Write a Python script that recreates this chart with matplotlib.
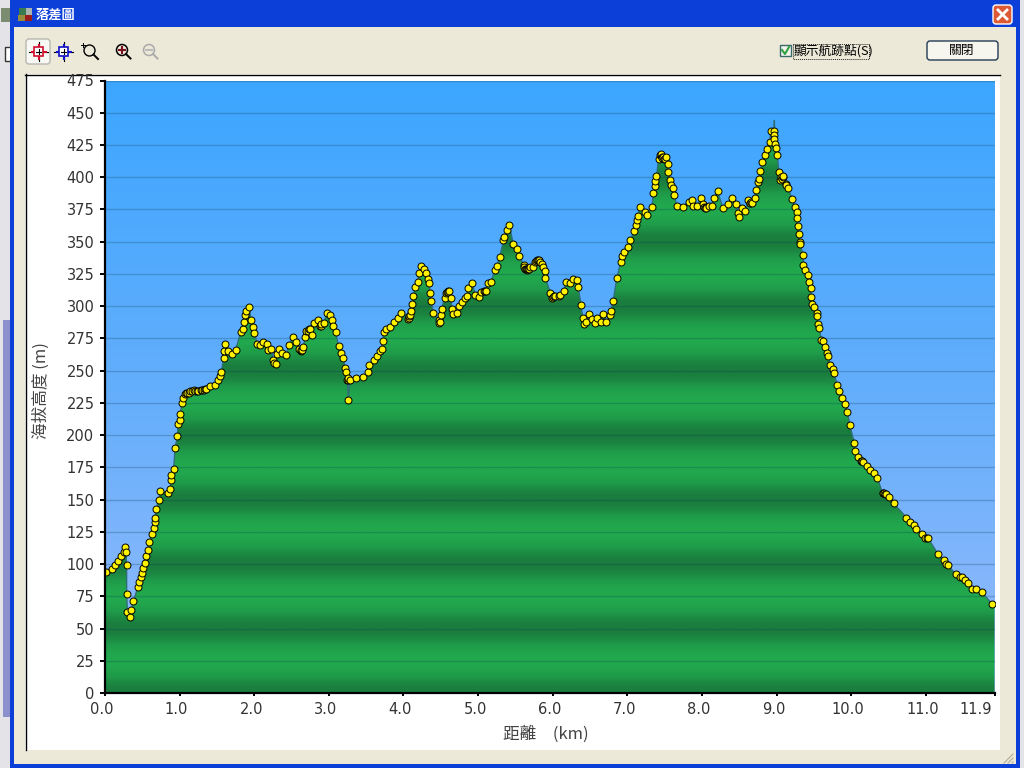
import numpy as np
import matplotlib
matplotlib.use('Agg')
import matplotlib.pyplot as plt
from matplotlib.colors import LinearSegmentedColormap
from matplotlib.patches import Circle, FancyBboxPatch, Polygon, Rectangle
from matplotlib.transforms import ScaledTranslation

plt.rcParams['font.family'] = ['Noto Sans CJK TC', 'DejaVu Sans']

# waypoints, distance in km and altitude in m
waypoint_km = [
	0.01, 0.09, 0.13, 0.18, 0.22, 0.25, 0.27, 0.28, 0.29, 0.29, 0.30, 0.33, 0.35, 0.38, 0.44, 0.46, 0.48, 0.50, 0.51, 0.53,
	0.55, 0.57, 0.59, 0.63, 0.65, 0.67, 0.67, 0.69, 0.72, 0.74, 0.84, 0.87, 0.89, 0.89, 0.92, 0.94, 0.97, 0.98, 1.00, 1.01,
	1.03, 1.05, 1.09, 1.14, 1.19, 1.25, 1.32, 1.36, 1.41, 1.47, 1.52, 1.54, 1.56, 1.59, 1.60, 1.61, 1.65, 1.70, 1.75, 1.82,
	1.85, 1.86, 1.88, 1.89, 1.93, 1.96, 1.98, 2.00, 2.04, 2.08, 2.12, 2.17, 2.19, 2.23, 2.25, 2.29, 2.31, 2.33, 2.37, 2.43,
	2.46, 2.52, 2.56, 2.60, 2.62, 2.66, 2.68, 2.70, 2.75, 2.77, 2.80, 2.86, 2.88, 2.93, 2.98, 3.02, 3.04, 3.06, 3.09, 3.13,
	3.16, 3.19, 3.22, 3.23, 3.25, 3.26, 3.28, 3.37, 3.46, 3.52, 3.54, 3.60, 3.64, 3.69, 3.71, 3.72, 3.74, 3.77, 3.82, 3.87,
	3.93, 3.97, 4.08, 4.10, 4.12, 4.13, 4.16, 4.19, 4.21, 4.24, 4.28, 4.30, 4.33, 4.34, 4.36, 4.37, 4.40, 4.47, 4.48, 4.50,
	4.51, 4.55, 4.57, 4.61, 4.63, 4.65, 4.67, 4.72, 4.75, 4.79, 4.83, 4.85, 4.87, 4.92, 4.96, 5.01, 5.04, 5.11, 5.13, 5.17,
	5.23, 5.25, 5.29, 5.34, 5.35, 5.39, 5.42, 5.47, 5.52, 5.55, 5.61, 5.63, 5.67, 5.73, 5.76, 5.80, 5.85, 5.87, 5.89, 5.90,
	5.97, 5.99, 6.03, 6.10, 6.15, 6.18, 6.23, 6.27, 6.32, 6.34, 6.38, 6.40, 6.42, 6.45, 6.48, 6.52, 6.56, 6.59, 6.65, 6.67,
	6.72, 6.77, 6.78, 6.81, 6.86, 6.91, 6.93, 6.95, 7.01, 7.04, 7.09, 7.12, 7.13, 7.14, 7.17, 7.24, 7.26, 7.33, 7.35, 7.37,
	7.37, 7.39, 7.42, 7.45, 7.49, 7.52, 7.54, 7.55, 7.57, 7.58, 7.61, 7.63, 7.66, 7.74, 7.82, 7.86, 7.88, 7.93, 7.99, 8.01,
	8.06, 8.09, 8.13, 8.16, 8.21, 8.28, 8.35, 8.40, 8.45, 8.48, 8.50, 8.53, 8.58, 8.62, 8.66, 8.71, 8.73, 8.75, 8.76, 8.78,
	8.81, 8.84, 8.87, 8.91, 8.92, 8.96, 8.96, 8.96, 8.98, 8.99, 9.01, 9.03, 9.05, 9.07, 9.09, 9.12, 9.15, 9.21, 9.24, 9.27,
	9.27, 9.29, 9.30, 9.31, 9.32, 9.35, 9.36, 9.38, 9.42, 9.44, 9.46, 9.46, 9.48, 9.50, 9.54, 9.54, 9.56, 9.57, 9.60, 9.62,
	9.65, 9.67, 9.69, 9.72, 9.75, 9.77, 9.81, 9.84, 9.87, 9.92, 9.95, 9.98, 10.04, 10.05, 10.09, 10.13, 10.16, 10.21, 10.25, 10.30,
	10.35, 10.42, 10.46, 10.50, 10.57, 10.74, 10.79, 10.84, 10.87, 10.95, 10.99, 11.03, 11.16, 11.24, 11.27, 11.30, 11.40, 11.46, 11.49, 11.53,
	11.57, 11.62, 11.67, 11.75, 11.89,
]
waypoint_m = [
	94, 96, 99, 102, 106, 109, 113, 109, 99, 77, 63, 59, 64, 71, 82, 86, 90, 93, 97, 101,
	106, 111, 117, 123, 128, 133, 136, 143, 150, 157, 155, 158, 165, 169, 174, 190, 199, 209, 212, 216,
	225, 229, 233, 234, 235, 234, 235, 236, 238, 239, 243, 246, 249, 260, 265, 271, 265, 263, 266, 280,
	282, 288, 293, 296, 299, 289, 284, 279, 271, 270, 272, 271, 266, 267, 258, 255, 263, 267, 264, 262,
	270, 276, 272, 267, 265, 268, 276, 281, 282, 278, 287, 289, 285, 287, 295, 293, 289, 285, 280, 269,
	264, 260, 252, 249, 243, 227, 243, 244, 245, 249, 254, 258, 261, 265, 267, 273, 280, 282, 284, 288,
	291, 295, 292, 296, 302, 308, 315, 319, 326, 331, 329, 326, 321, 318, 310, 304, 295, 289, 287, 293,
	298, 306, 310, 312, 306, 298, 294, 295, 300, 303, 306, 308, 314, 318, 309, 307, 311, 312, 318, 319,
	328, 331, 338, 351, 354, 359, 363, 348, 344, 339, 332, 329, 329, 330, 334, 336, 333, 330, 327, 322,
	310, 306, 308, 309, 312, 319, 318, 321, 320, 315, 301, 291, 286, 288, 294, 290, 287, 291, 288, 294,
	288, 293, 296, 304, 322, 334, 339, 342, 346, 351, 358, 363, 367, 370, 377, 373, 371, 377, 388, 393,
	397, 401, 414, 417, 414, 416, 410, 404, 398, 394, 392, 386, 378, 377, 381, 382, 378, 378, 384, 379,
	376, 378, 378, 384, 389, 376, 379, 384, 379, 372, 369, 376, 374, 382, 381, 384, 390, 396, 399, 405,
	412, 417, 422, 427, 436, 436, 433, 430, 426, 423, 417, 404, 398, 399, 401, 395, 392, 383, 377, 373,
	368, 362, 356, 350, 348, 340, 332, 328, 324, 319, 314, 307, 302, 299, 295, 292, 286, 283, 274, 273,
	268, 264, 261, 254, 251, 248, 239, 234, 229, 224, 218, 208, 194, 188, 183, 180, 179, 176, 173, 171,
	167, 155, 154, 152, 147, 136, 133, 130, 127, 123, 120, 120, 108, 103, 100, 99, 92, 90, 90, 88,
	85, 81, 81, 78, 69,
]
# waypoints stacked in the dark clusters, estimated
cluster_km = [
	1.07, 1.10, 1.12, 1.16, 1.21, 1.23, 1.28, 1.30, 1.34, 2.27, 2.62, 2.64, 2.72, 2.73, 2.89, 2.90, 3.24, 3.25,
	4.06, 4.07, 4.09, 4.49, 4.58, 4.59, 4.60, 5.08, 5.09, 5.62, 5.64, 5.65, 5.66, 5.68, 5.70, 5.78, 5.79, 5.81, 5.83,
	6.01, 6.02, 6.08, 7.44, 7.45, 7.46, 7.47, 7.48, 7.50, 8.03, 8.04, 8.05, 8.64, 8.65, 8.67, 9.06, 9.08, 9.13,
	10.14, 10.15, 10.43, 10.44, 10.45, 11.01,
]
cluster_m = [
	232, 233, 233, 234, 234, 234, 235, 235, 236, 256, 266, 266, 281, 282, 285, 286, 243, 244,
	290, 291, 293, 288, 311, 312, 311, 312, 312, 330, 329, 328, 329, 329, 330, 335, 336, 336, 334,
	307, 308, 308, 417, 418, 416, 415, 416, 414, 377, 376, 377, 380, 380, 380, 400, 400, 394,
	180, 180, 155, 155, 154, 120,
]
# track points that carry no waypoint marker
spike_km = [8.97]
spike_m = [444]
end_km = [11.92]
end_m = [67]

y_ticks = list(range(0, 476, 25))
x_ticks = [0.0, 1.0, 2.0, 3.0, 4.0, 5.0, 6.0, 7.0, 8.0, 9.0, 10.0, 11.0, 11.92]
x_tick_labels = ['0.0', '1.0', '2.0', '3.0', '4.0', '5.0', '6.0', '7.0', '8.0', '9.0', '10.0', '11.0', '11.9']

BEIGE = '#ECE9D8'
TEXT = '#333333'


def vgrad(ax, x0, x1, y0, y1, colors):
	cmap = LinearSegmentedColormap.from_list('g', colors)
	ax.imshow(np.linspace(0, 1, 64).reshape(-1, 1), extent=(x0, x1, y1, y0), cmap=cmap, aspect='auto', interpolation='bilinear')


def draw_crosshair(ax, x, y, color):
	ax.plot([x-9.5, x+9.5], [y, y], color='black', lw=0.8)
	ax.plot([x, x], [y-9.5, y+9.5], color='black', lw=0.8)
	ax.plot([x-7, x-4.5], [y, y], color=color, lw=1.5)
	ax.plot([x+4.5, x+7], [y, y], color=color, lw=1.5)
	ax.plot([x, x], [y-7, y-4.5], color=color, lw=1.5)
	ax.plot([x, x], [y+4.5, y+7], color=color, lw=1.5)
	ax.add_patch(Rectangle((x-4.5, y-4.5), 9, 9, fc='white', ec=color, lw=1.2, zorder=3))
	ax.plot([x-2.5, x+2.5], [y, y], color='black', lw=0.8, zorder=4)
	ax.plot([x, x], [y-2.5, y+2.5], color='black', lw=0.8, zorder=4)


def draw_lens(ax, x, y, color, sign):
	ax.add_patch(Circle((x, y), 5.5, fc='none', ec=color, lw=1.1))
	ax.plot([x+4, x+8.5], [y+4, y+8.5], color=color, lw=1.4)
	sign_color = '#7A1020' if sign == '+' else '#BBBBBB'
	ax.plot([x-3, x+3], [y, y], color=sign_color, lw=1.5)
	if sign == '+':
		ax.plot([x, x], [y-3, y+3], color=sign_color, lw=1.5)


def draw_window(ax):
	ax.set_xlim(0, 1024)
	ax.set_ylim(768, 0)
	ax.axis('off')
	# desktop behind the dialog
	ax.add_patch(Rectangle((0, 0), 1024, 768, fc='#E4E4E8', ec='none'))
	ax.add_patch(Rectangle((3, 320), 7, 397, fc='#8C90CC', ec='none'))
	ax.add_patch(Rectangle((5, 47), 6, 14, fc='white', ec='#333333', lw=1))
	ax.add_patch(Rectangle((1, 8), 9, 14, fc='#7C8C70', ec='none'))
	# dialog frame
	ax.add_patch(Rectangle((10, 0), 1010, 768, fc='#0B3FD8', ec='none'))
	ax.add_patch(Rectangle((14, 27), 1002, 737, fc=BEIGE, ec='none'))
	vgrad(ax, 10, 1020, 0, 27, ['#0A58E0', '#1470F0', '#0456E6', '#0450E0', '#0A4CDC'])
	# title bar
	ax.add_patch(Rectangle((19, 8), 7, 7, fc='#3A7A50', ec='none'))
	ax.add_patch(Rectangle((26, 8), 6, 7, fc='#AAB4B0', ec='none'))
	ax.add_patch(Rectangle((18, 15), 7, 6, fc='#9A8C3C', ec='none'))
	ax.add_patch(Rectangle((25, 15), 7, 6, fc='#9A1C1C', ec='none'))
	ax.text(36, 14.5, '落差圖', color='white', fontsize=9.5, fontweight='bold', va='center', ha='left')
	ax.add_patch(FancyBboxPatch((994, 6), 17, 17, boxstyle='round,pad=1,rounding_size=3', fc='#DE5A34', ec='white', lw=1))
	ax.plot([998, 1007], [10, 19], color='white', lw=2)
	ax.plot([998, 1007], [19, 10], color='white', lw=2)
	# toolbar
	ax.add_patch(FancyBboxPatch((26.5, 39.5), 23, 24, boxstyle='round,pad=0.5,rounding_size=3', fc='#F8F8F4', ec='#B8B8B0', lw=1))
	draw_crosshair(ax, 38.5, 51.5, '#D0102C')
	draw_crosshair(ax, 63.5, 51.5, '#1010C8')
	ax.add_patch(Circle((89.5, 50.5), 5.5, fc='none', ec='black', lw=1))
	ax.plot([93.5, 98], [54.5, 59], color='black', lw=1.4)
	ax.plot([81, 85], [45, 45], color='black', lw=0.7)
	ax.plot([83, 83], [43, 47], color='black', lw=0.7)
	draw_lens(ax, 122, 50, 'black', '+')
	draw_lens(ax, 149, 50, '#AAAAAA', '-')
	# check box and close button
	ax.add_patch(Rectangle((780, 45), 11, 11, fc='#F4F4EC', ec='#3A6A6A', lw=1))
	ax.plot([782, 785, 789], [50, 54, 47], color='#30A040', lw=1.5)
	ax.text(794, 51, '顯示航跡點(S)', color='black', fontsize=9.2, va='center', ha='left')
	ax.add_patch(Rectangle((793, 44), 76, 15, fc='none', ec='#222222', lw=0.7, ls=(0, (1, 1))))
	ax.add_patch(FancyBboxPatch((928, 42), 69, 17, boxstyle='round,pad=1,rounding_size=3', fc='#F6F5EE', ec='#223A55', lw=1))
	ax.text(962, 50.5, '關閉', color='black', fontsize=9.2, va='center', ha='center')
	# client panel
	ax.add_patch(Rectangle((25, 74), 975, 676, fc='white', ec='none'))
	ax.plot([25, 1000], [74.5, 74.5], color='black', lw=1)
	ax.plot([25.5, 25.5], [74, 750], color='black', lw=1)
	for i in range(3):
		ax.plot([1004+4*i, 1013], [763, 754+4*i], color='#B0AC98', lw=0.8)
	ax.set_xlim(0, 1024)
	ax.set_ylim(768, 0)


def draw_profile(ax):
	track_km = np.array(waypoint_km + spike_km + end_km)
	track_m = np.array(waypoint_m + spike_m + end_m)
	order = np.argsort(track_km, kind='stable')
	track_km = track_km[order]
	track_m = track_m[order]

	x0, x1 = 0, x_ticks[-1]
	y0, y1 = 0, 475

	sky = LinearSegmentedColormap.from_list('sky', ['#3CA6FF', '#63AEFC', '#96BBFB'])
	ax.imshow(np.linspace(0, 1, 256).reshape(-1, 1), extent=(x0, x1, y0, y1), origin='upper', cmap=sky, aspect='auto', vmin=0, vmax=1, zorder=1)

	# green bands repeat every 50 m, dark on each 50 m line
	levels = np.linspace(y0, y1, 960)
	bands = np.sin(np.pi*levels/50)**2
	green = LinearSegmentedColormap.from_list('green', ['#1A7C3D', '#1F9A49', '#22A94E'])
	im = ax.imshow(bands.reshape(-1, 1), extent=(x0, x1, y0, y1), origin='lower', cmap=green, aspect='auto', vmin=0, vmax=1, zorder=2)
	outline = np.column_stack([np.r_[x0, track_km[0], track_km, x1], np.r_[y0, track_m[0], track_m, y0]])
	poly = Polygon(outline, closed=True, transform=ax.transData, fc='none', ec='none')
	ax.add_patch(poly)
	im.set_clip_path(poly)

	for y in y_ticks[1:]:
		ax.axhline(y, color='#0A3C50', alpha=0.25, lw=1, zorder=3)

	ax.plot(track_km, track_m, color='#2F6F78', lw=1, zorder=4)
	marker_km = np.array(waypoint_km + cluster_km)
	marker_m = np.array(waypoint_m + cluster_m)
	marker_order = np.argsort(marker_km, kind='stable')
	ax.plot(marker_km[marker_order], marker_m[marker_order], ls='none', marker='o', ms=5, mfc='#FFF200', mec='black', mew=0.7, zorder=5)

	ax.set_xlim(x0, x1)
	ax.set_ylim(y0, y1)
	ax.set_xticks(x_ticks)
	ax.set_xticklabels(x_tick_labels)
	ax.set_yticks(y_ticks)
	ax.tick_params(axis='y', length=3.6, width=1.4, color='black', labelcolor=TEXT, labelsize=10.5, pad=4)
	ax.tick_params(axis='x', length=2.5, width=1.4, color='black', labelcolor=TEXT, labelsize=10.5, pad=4)
	shift = ScaledTranslation(-3/100, 0, ax.figure.dpi_scale_trans)
	for label in ax.get_xticklabels():
		label.set_family('DejaVu Sans')
		label.set_transform(label.get_transform() + shift)
	ax.get_xticklabels()[-1].set_ha('right')
	for label in ax.get_yticklabels():
		label.set_family('DejaVu Sans')
	for side in ['top', 'right']:
		ax.spines[side].set_visible(False)
	for side in ['left', 'bottom']:
		ax.spines[side].set_linewidth(1.6)
		ax.spines[side].set_zorder(6)
	ax.patch.set_alpha(0)


fig = plt.figure(figsize=(10.24, 7.68), dpi=100)
chrome = fig.add_axes([0, 0, 1, 1], zorder=0)
draw_window(chrome)

plot_ax = fig.add_axes([105/1024, (768-693)/768, (994.5-105)/1024, (693-80.5)/768], zorder=1)
draw_profile(plot_ax)

fig.text(545.5/1024, 1-734/768, '距離\u3000(km)', color='#444444', fontsize=12, ha='center', va='center')
fig.text(41/1024, 1-391/768, '海拔高度 (m)', color='#444444', fontsize=12, rotation=90, ha='center', va='center')

fig.savefig('out.png', dpi=100)
